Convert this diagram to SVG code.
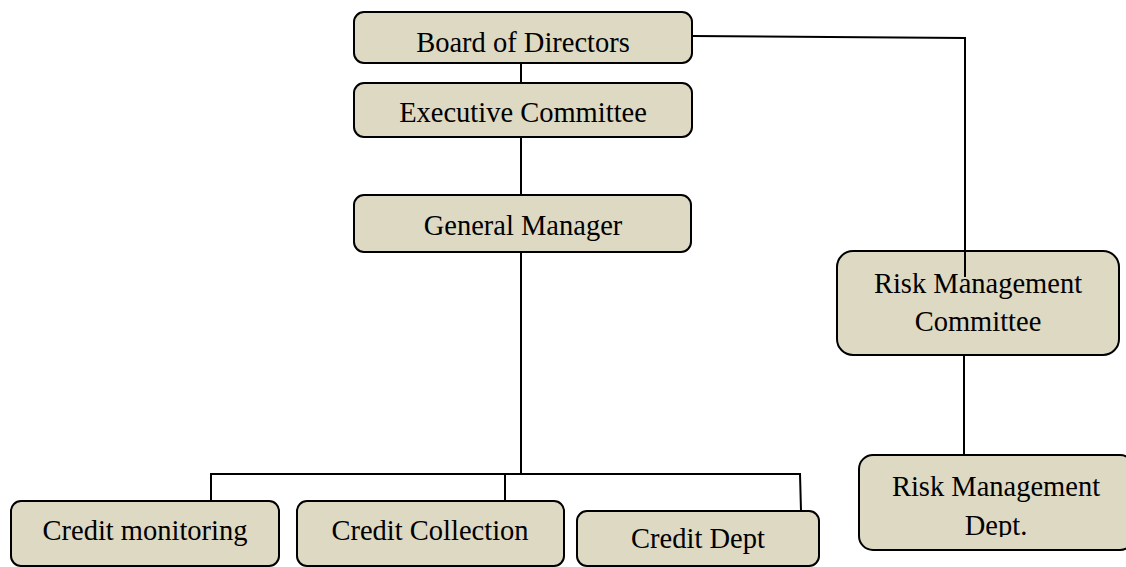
<svg xmlns="http://www.w3.org/2000/svg" width="1126" height="567" viewBox="0 0 1126 567">
  <style>
    .box { fill: #ddd9c3; stroke: #000; stroke-width: 2; }
    .lbl { font-family: "Liberation Serif", "Times New Roman", serif; font-size: 28.5px; fill: #000; text-anchor: middle; }
    .conn { fill: none; stroke: #000; stroke-width: 2; }
  </style>
  <defs>
    <clipPath id="clipRMD"><rect x="855" y="450" width="280" height="87"/></clipPath>
  </defs>
  <rect width="1126" height="567" fill="#fff"/>
  <g id="board">
    <rect class="box" x="354" y="12" width="338" height="51" rx="10"/>
    <text class="lbl" x="523" y="52">Board of Directors</text>
  </g>
  <g id="exec">
    <rect class="box" x="354" y="83" width="338" height="54" rx="10"/>
    <text class="lbl" x="523" y="122">Executive Committee</text>
  </g>
  <g id="gm">
    <rect class="box" x="354" y="195" width="337" height="57" rx="10"/>
    <text class="lbl" x="523" y="235">General Manager</text>
  </g>
  <g id="rmc">
    <rect class="box" x="837" y="251" width="282" height="104" rx="16"/>
    <text class="lbl" x="978" y="293">Risk Management</text>
    <text class="lbl" x="978" y="331">Committee</text>
  </g>
  <g id="rmd">
    <rect class="box" x="859" y="455" width="275" height="95" rx="14"/>
    <g clip-path="url(#clipRMD)">
      <text class="lbl" x="996" y="496">Risk Management</text>
      <text class="lbl" x="996" y="535">Dept.</text>
    </g>
  </g>
  <g id="monitoring">
    <rect class="box" x="11" y="501" width="268" height="65" rx="10"/>
    <text class="lbl" x="145" y="540">Credit monitoring</text>
  </g>
  <g id="collection">
    <rect class="box" x="297" y="501" width="267" height="65" rx="10"/>
    <text class="lbl" x="430" y="540">Credit Collection</text>
  </g>
  <g id="creditdept">
    <rect class="box" x="577" y="511" width="242" height="55" rx="10"/>
    <text class="lbl" x="698" y="548">Credit Dept</text>
  </g>
  <g id="connectors">
    <line class="conn" x1="521" y1="63" x2="521" y2="83"/>
    <line class="conn" x1="521" y1="137" x2="521" y2="195"/>
    <line class="conn" x1="521" y1="252" x2="521" y2="474"/>
    <polyline class="conn" points="211,501 211,474 800,474 801,511"/>
    <line class="conn" x1="505" y1="474" x2="505" y2="501"/>
    <polyline class="conn" points="692,36 965,38 965,277"/>
    <line class="conn" x1="964" y1="355" x2="964" y2="455"/>
  </g>
</svg>
